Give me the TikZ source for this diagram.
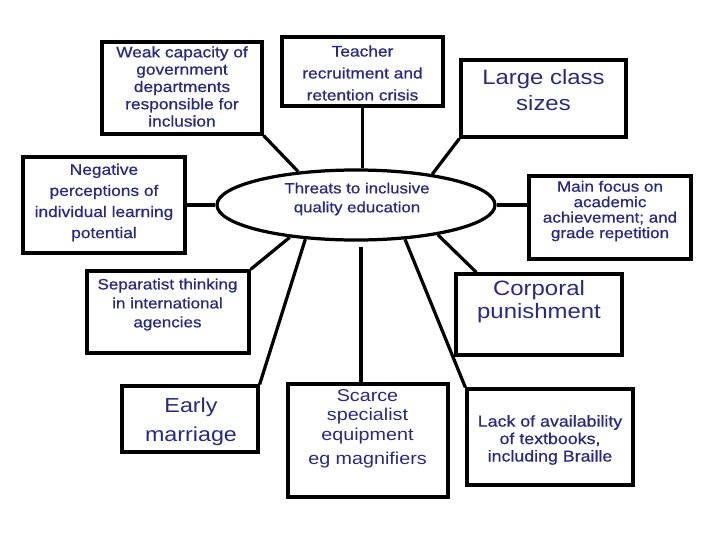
\documentclass[tikz,border=0pt]{standalone}
\usepackage{fontspec}
\setmainfont{Liberation Sans}[FakeStretch=1.15]
\newfontfamily\heavyfont{Liberation Sans}[FakeStretch=1.13,FakeBold=0.7]
\usetikzlibrary{shapes.geometric}
\definecolor{textblue}{RGB}{40,40,135}

\begin{document}
\begin{tikzpicture}[x=0.025cm,y=-0.025cm,
        cause/.style={draw,line width=2.3pt,inner sep=0pt},
        causetext/.style={text=textblue,align=center,inner sep=0pt},
        link/.style={line width=2.3pt}]
        \useasboundingbox(0,0)rectangle(720,540);

        \node[ellipse,cause,minimum width=6.95cm,minimum height=1.75cm](threat)at(356,205){};
        \node[causetext,font=\heavyfont\fontsize{10.6}{13.5}\selectfont](threattext)at(357,199){Threats to inclusive\\quality education};

        \node[cause,minimum width=4cm,minimum height=2.3cm](capacity)at(182,88){};
        \node[causetext,font=\heavyfont\fontsize{10.9}{12.3}\selectfont](capacitytext)at(182,86.5){Weak capacity of\\government\\departments\\responsible for\\inclusion};

        \node[cause,minimum width=4.025cm,minimum height=1.725cm](teacher)at(362.5,71.5){};
        \node[causetext,font=\heavyfont\fontsize{10.9}{15.6}\selectfont](teachertext)at(362.5,73){Teacher\\recruitment and\\retention crisis};

        \node[cause,minimum width=4.125cm,minimum height=1.925cm](large)at(543.5,98.5){};
        \node[causetext,font=\fontsize{14.8}{18.5}\selectfont](largetext)at(543.5,90){Large class\\sizes};

        \node[cause,minimum width=4.05cm,minimum height=2.4cm](negative)at(104,205){};
        \node[causetext,font=\heavyfont\fontsize{10.9}{15}\selectfont](negativetext)at(104,202.5){Negative\\perceptions of\\individual learning\\potential};

        \node[cause,minimum width=4.05cm,minimum height=2.075cm](main)at(610,217.5){};
        \node[causetext,font=\heavyfont\fontsize{10.7}{11}\selectfont](maintext)at(610,211){Main focus on\\academic\\achievement; and\\grade repetition};

        \node[cause,minimum width=4.05cm,minimum height=2.05cm](separatist)at(168,312){};
        \node[causetext,font=\heavyfont\fontsize{10.7}{13.5}\selectfont](separatisttext)at(167.5,304.5){Separatist thinking\\in international\\agencies};

        \node[cause,minimum width=4.15cm,minimum height=2.025cm](corporal)at(539,314.5){};
        \node[causetext,font=\fontsize{14.8}{16.4}\selectfont](corporaltext)at(539,301.5){Corporal\\punishment};

        \node[cause,minimum width=3.4cm,minimum height=1.65cm](early)at(190,419){};
        \node[causetext,font=\fontsize{14.4}{20.6}\selectfont](earlytext)at(191,421.5){Early\\marriage};

        \node[cause,minimum width=4cm,minimum height=2.825cm](scarce)at(368,440.5){};
        \node[causetext,font=\fontsize{12.2}{13.9}\selectfont](scarcetext)at(367.5,428.5){Scarce\\specialist\\equipment\\[3pt]eg magnifiers};

        \node[cause,minimum width=4.15cm,minimum height=2.4cm](lack)at(550,437){};
        \node[causetext,font=\heavyfont\fontsize{11.2}{12.4}\selectfont](lacktext)at(550,440){Lack of availability\\of textbooks,\\including Braille};

        % spokes
        \draw[link](capacity.south east)--(threat.150);
        \draw[link](teacher.south)--(teacher.south|-threat.north);
        \draw[link](large.south west)--(threat.22);
        \draw[link](negative)--(threat);
        \draw[link](threat.east)--(threat.east-|main.west);
        \draw[link](separatist.north east)--(threat.206);
        \draw[link](early.north east)--(threat.214);
        \coordinate(scarcetop)at(361,247);
        \draw[link](scarcetop)--(scarcetop|-scarce.north);
        \draw[link](lack.north west)--(threat.-35);
        \draw[link](threat.-20)--([xshift=0.55cm]corporal.north west);
\end{tikzpicture}
\end{document}
